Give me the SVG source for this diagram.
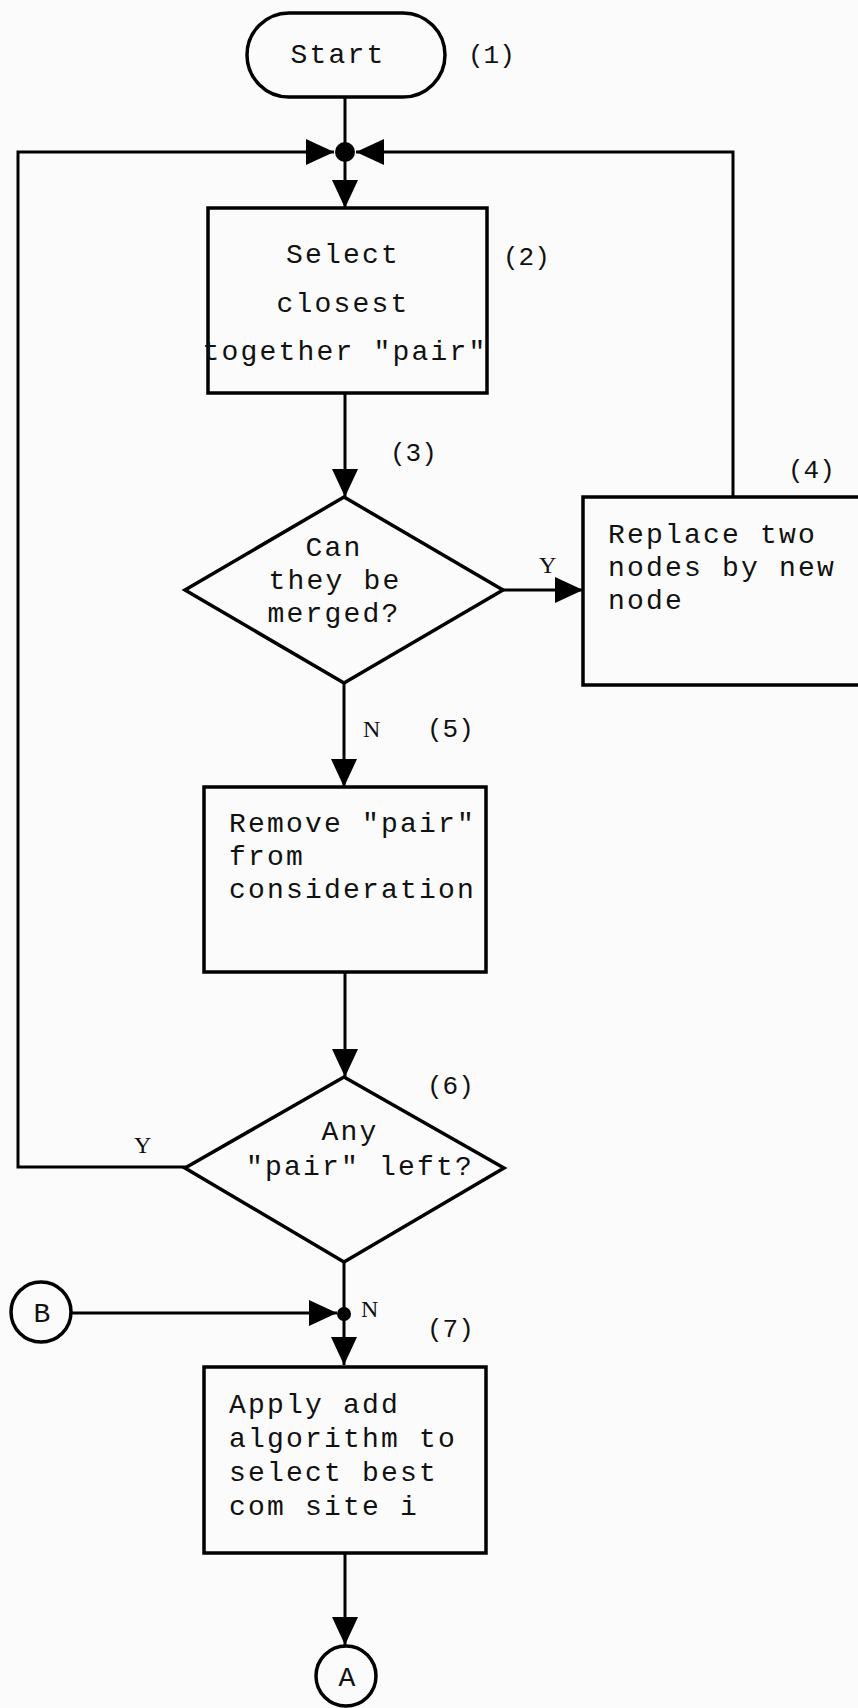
<svg xmlns="http://www.w3.org/2000/svg" width="858" height="1708" viewBox="0 0 858 1708">
<style>
.bg{fill:#fbfbfb}
.shape{fill:none;stroke:#000;stroke-width:3.5}
.edge{fill:none;stroke:#000;stroke-width:3}
.t{font-family:"Liberation Mono","Courier New",monospace;font-size:28px;letter-spacing:2.2px;fill:#111}
.lbl{font-family:"Liberation Mono","Courier New",monospace;font-size:26px;fill:#111}
.yn{font-family:"Liberation Serif","Times New Roman",serif;font-size:24px;fill:#111}
.mid{text-anchor:middle}
</style>
<defs>
<marker id="arr" markerUnits="userSpaceOnUse" markerWidth="30" markerHeight="30" refX="28" refY="13" orient="auto">
<path d="M0,0 L28,13 L0,26 z" fill="#000"/>
</marker>
</defs>
<rect class="bg" x="0" y="0" width="858" height="1708"/>

<g id="connectors">
<line class="edge" x1="345" y1="97" x2="345" y2="152"/>
<line class="edge" x1="345" y1="152" x2="345" y2="208" marker-end="url(#arr)"/>
<line class="edge" x1="345" y1="393" x2="345" y2="497" marker-end="url(#arr)"/>
<line class="edge" x1="503" y1="590" x2="583" y2="590" stroke-width="5" marker-end="url(#arr)"/>
<polyline class="edge" points="733,497 733,152 356,152" marker-end="url(#arr)"/>
<line class="edge" x1="344" y1="683" x2="344" y2="787" marker-end="url(#arr)"/>
<line class="edge" x1="345" y1="972" x2="345" y2="1077" marker-end="url(#arr)"/>
<polyline class="edge" points="186,1167 18,1167 18,152 334,152" marker-end="url(#arr)"/>
<line class="edge" x1="344" y1="1262" x2="344" y2="1365" marker-end="url(#arr)"/>
<line class="edge" x1="71" y1="1313" x2="337" y2="1313" marker-end="url(#arr)"/>
<line class="edge" x1="345" y1="1553" x2="345" y2="1645" marker-end="url(#arr)"/>
<circle cx="345" cy="152" r="10" fill="#000"/>
<circle cx="344" cy="1314" r="7" fill="#000"/>
<text class="yn" x="539" y="573">Y</text>
<text class="yn" x="363" y="737">N</text>
<text class="yn" x="134" y="1153">Y</text>
<text class="yn" x="361" y="1317">N</text>
</g>

<g id="n1">
<rect class="shape" x="247" y="13" width="198" height="84" rx="42" ry="42"/>
<text class="t mid" x="338" y="63">Start</text>
<text class="lbl" x="468" y="63">(1)</text>
</g>

<g id="n2">
<rect class="shape" x="208" y="208" width="279" height="185"/>
<text class="t mid" x="343" y="263">Select</text>
<text class="t mid" x="343" y="312">closest</text>
<text class="t mid" x="345" y="360">together "pair"</text>
<text class="lbl" x="503" y="265">(2)</text>
</g>

<g id="n3">
<polygon class="shape" points="344,497 503,590 344,683 185,590"/>
<text class="t mid" x="334" y="556">Can</text>
<text class="t mid" x="335" y="589">they be</text>
<text class="t mid" x="334" y="622">merged?</text>
<text class="lbl" x="390" y="461">(3)</text>
</g>

<g id="n4">
<path class="shape" d="M870,497 L583,497 L583,685 L870,685"/>
<text class="t" x="608" y="543">Replace two</text>
<text class="t" x="608" y="576">nodes by new</text>
<text class="t" x="608" y="609">node</text>
<text class="lbl" x="788" y="478">(4)</text>
</g>

<g id="n5">
<rect class="shape" x="204" y="787" width="282" height="185"/>
<text class="t" x="229" y="832">Remove "pair"</text>
<text class="t" x="229" y="865">from</text>
<text class="t" x="229" y="898">consideration</text>
<text class="lbl" x="427" y="737">(5)</text>
</g>

<g id="n6">
<polygon class="shape" points="344,1077 504,1168 344,1262 185,1168"/>
<text class="t mid" x="350" y="1140">Any</text>
<text class="t mid" x="360" y="1175">"pair" left?</text>
<text class="lbl" x="427" y="1094">(6)</text>
</g>

<g id="nB">
<circle class="shape" cx="41" cy="1312" r="30"/>
<text class="t mid" x="43" y="1322">B</text>
</g>

<g id="n7">
<rect class="shape" x="204" y="1367" width="282" height="186"/>
<text class="t" x="229" y="1413">Apply add</text>
<text class="t" x="229" y="1447">algorithm to</text>
<text class="t" x="229" y="1481">select best</text>
<text class="t" x="229" y="1515">com site i</text>
<text class="lbl" x="427" y="1337">(7)</text>
</g>

<g id="nA">
<circle class="shape" cx="346" cy="1676" r="30"/>
<text class="t mid" x="348" y="1686">A</text>
</g>
</svg>
